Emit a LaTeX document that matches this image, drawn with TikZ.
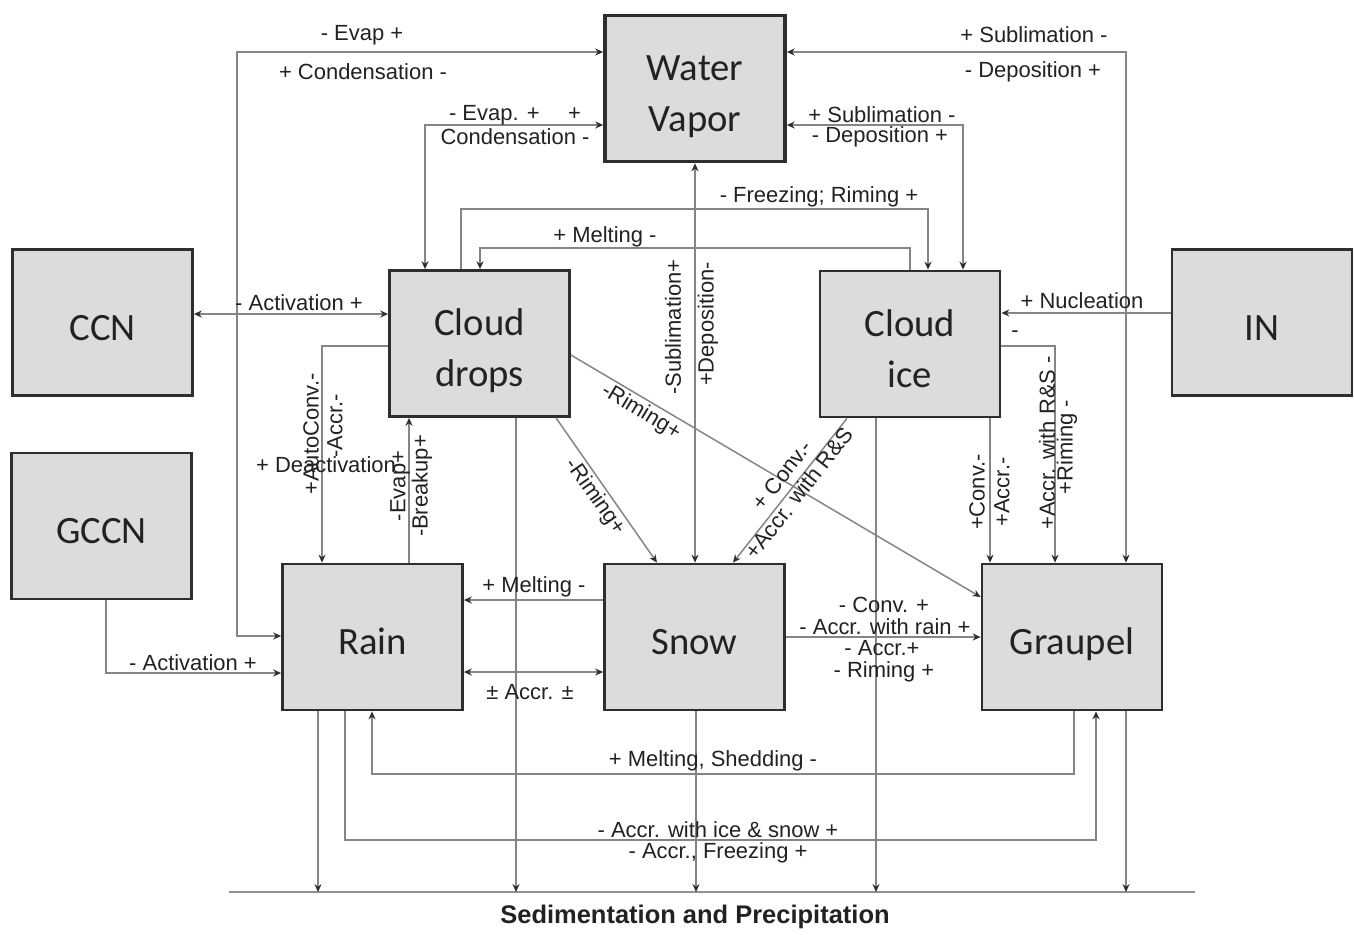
\documentclass[tikz,border=0pt]{standalone}
\usepackage{fontspec}
\setmainfont{Liberation Sans}
\newfontfamily\boxfont{Carlito}
\usetikzlibrary{arrows.meta}
\definecolor{boxfill}{HTML}{DCDCDC}
\definecolor{boxline}{HTML}{2E2E2E}
\definecolor{linegray}{HTML}{858585}
\definecolor{txt}{HTML}{222222}
\newcommand\bxt[1]{\raisebox{-4.2pt}[\height][\depth]{\begin{tabular}{@{}c@{}}#1\end{tabular}}}
\begin{document}
\begin{tikzpicture}[x=0.02cm,y=-0.02cm,
  box/.style={draw=boxline, fill=boxfill, line width=1.6pt, minimum width=3.6cm, minimum height=2.92cm, inner sep=0pt, align=center, font=\boxfont\fontsize{22}{29}\selectfont, text=txt},
  conn/.style={draw=linegray, line width=0.85pt},
  >={Stealth[length=4.5pt,width=4pt,color=boxline]},
  lab/.style={inner sep=0pt, font=\fontsize{12.5}{14}\selectfont, text=txt},
  sedlab/.style={inner sep=0pt, font=\bfseries\fontsize{14.5}{16}\selectfont, text=txt},
]
\useasboundingbox (0,0) rectangle (1354,934);
\fill[white] (0,0) rectangle (1354,934);

% boxes
\node[box, line width=2.1pt] (wv) at (695,88.5) {\bxt{Water\\Vapor}};
\node[box] (ccn) at (102.5,322.5) {\bxt{CCN}};
\node[box] (gccn) at (101.5,526) {\bxt{GCCN}};
\node[box] (cd) at (479.5,343.5) {\bxt{Cloud\\drops}};
\node[box] (ci) at (910,344) {\bxt{Cloud\\ice}};
\node[box] (in) at (1262,322.5) {\bxt{IN}};
\node[box] (rain) at (372.5,637) {\bxt{Rain}};
\node[box] (sn) at (694.5,637) {\bxt{Snow}};
\node[box] (gr) at (1072,637) {\bxt{Graupel}};

% sedimentation bar
\coordinate (sedL) at (229,892);
\coordinate (sedR) at (1195,892);
\draw[draw=linegray!90, line width=1.6pt] (sedL) -- (sedR);
\node[sedlab] (sed) at (695,917) {Sedimentation and Precipitation};

% connectors
\draw[conn,<->] (wv.west |- 0,52) -- (237,52) |- (rain.west |- 0,636);
\draw[conn,<->] (wv.west |- 0,125) -| (cd.north -| 425,0);
\draw[conn,<->] (wv.east |- 0,52) -| (gr.north -| 1126,0);
\draw[conn,<->] (wv.east |- 0,125) -| (ci.north -| 963,0);
\draw[conn,<->] (wv.south -| 695,0) -- (sn.north -| 695,0);
\draw[conn,->] (cd.north -| 461,0) -- (461,209) -| (ci.north -| 928,0);
\draw[conn,->] (ci.north -| 910,0) -- (910,248) -| (cd.north -| 480,0);
\draw[conn,<->] (ccn.east |- 0,314) -- (cd.west |- 0,314);
\draw[conn,->] (cd.west |- 0,346) -| (rain.north -| 322,0);
\draw[conn,->] (rain.north -| 409,0) -- (cd.south -| 409,0);
\draw[conn,->] (cd.south -| 556,0) -- (sn.north -| 657,0);
\draw[conn,->] (cd.east |- 0,355) -- (gr.west |- 0,597);
\draw[conn,->] (ci.south -| 847,0) -- (sn.north -| 733,0);
\draw[conn,->] (ci.south -| 990,0) -- (gr.north -| 990,0);
\draw[conn,->] (ci.east |- 0,346) -| (gr.north -| 1055,0);
\draw[conn,->] (in.west |- 0,313) -- (ci.east |- 0,313);
\draw[conn,->] (gccn.south -| 106,0) |- (rain.west |- 0,673);
\draw[conn,->] (sn.west |- 0,600) -- (rain.east |- 0,600);
\draw[conn,<->] (rain.east |- 0,672) -- (sn.west |- 0,672);
\draw[conn,->] (sn.east |- 0,637) -- (gr.west |- 0,637);
\draw[conn,->] (gr.south -| 1074,0) -- (1074,774) -| (rain.south -| 372,0);
\draw[conn,->] (rain.south -| 345,0) -- (345,840) -| (gr.south -| 1096,0);
% sedimentation arrows
\draw[conn,->] (rain.south -| 318,0) -- (318,0 |- sedL);
\draw[conn,->] (cd.south -| 516,0) -- (516,0 |- sedL);
\draw[conn,->] (sn.south -| 696,0) -- (696,0 |- sedL);
\draw[conn,->] (ci.south -| 876,0) -- (876,0 |- sedL);
\draw[conn,->] (gr.south -| 1126,0) -- (1126,0 |- sedL);

% labels
\node[lab] (l1) at (362,35) {- Evap +};
\node[lab] (l2) at (363,72) {+ Condensation -};
\node[lab] (l3) at (515,115) {- Evap. +\hspace{1.3em}+};
\node[lab] (l4) at (515,137) {Condensation -};
\node[lab] (l5) at (1034,35) {+ Sublimation -};
\node[lab] (l6) at (1033,72) {- Deposition +};
\node[lab] (l7) at (882,115) {+ Sublimation -};
\node[lab] (l8) at (880,137) {- Deposition +};
\node[lab] (l9) at (819,197) {- Freezing; Riming +};
\node[lab] (l10) at (605,237) {+ Melting -};
\node[lab,rotate=90] (l11) at (673,327) {-Sublimation+};
\node[lab,rotate=90] (l12) at (708,324) {+Deposition-};
\node[lab] (l13) at (299,303) {- Activation +};
\node[lab] (l14) at (1082,301) {+ Nucleation};
\node[lab,rotate=90] (l15) at (311,434) {+AutoConv.-};
\node[lab,rotate=90] (l16) at (335,426) {-Accr.-};
\node[lab] (l17) at (326,465) {+ Deactivation};
\node[lab,rotate=90] (l18) at (400,486) {-Evap+};
\node[lab,rotate=90] (l19) at (422,486) {-Breakup+};
\node[lab,rotate=-55] (l20) at (595,497) {-Riming+};
\node[lab,rotate=-31] (l21) at (641,412) {-Riming+};
\node[lab,rotate=52] (l22) at (782,475) {+ Conv.-};
\node[lab,rotate=52] (l23) at (799,493) {+Accr. with R\&S};
\node[lab,rotate=90] (l24) at (977,492) {+Conv.-};
\node[lab,rotate=90] (l25) at (1002,492) {+Accr.-};
\node[lab] (l26) at (1015,334) {-};
\node[lab,rotate=90] (l27) at (1047,443) {+Accr. with R\&S -};
\node[lab,rotate=90] (l28) at (1067,447) {+Riming -};
\node[lab] (l29) at (193,663) {- Activation +};
\node[lab] (l30) at (534,587) {+ Melting -};
\node[lab] (l31) at (530,692) {± Accr. ±};
\node[lab] (l32) at (884,605) {- Conv. +};
\node[lab] (l33) at (885,627) {- Accr. with rain +};
\node[lab] (l34) at (882,648) {- Accr.+};
\node[lab] (l35) at (884,672) {- Riming +};
\node[lab] (l36) at (713,761) {+ Melting, Shedding -};
\node[lab] (l37) at (718,830) {- Accr. with ice \& snow +};
\node[lab] (l38) at (718,853) {- Accr., Freezing +};
\end{tikzpicture}
\end{document}
